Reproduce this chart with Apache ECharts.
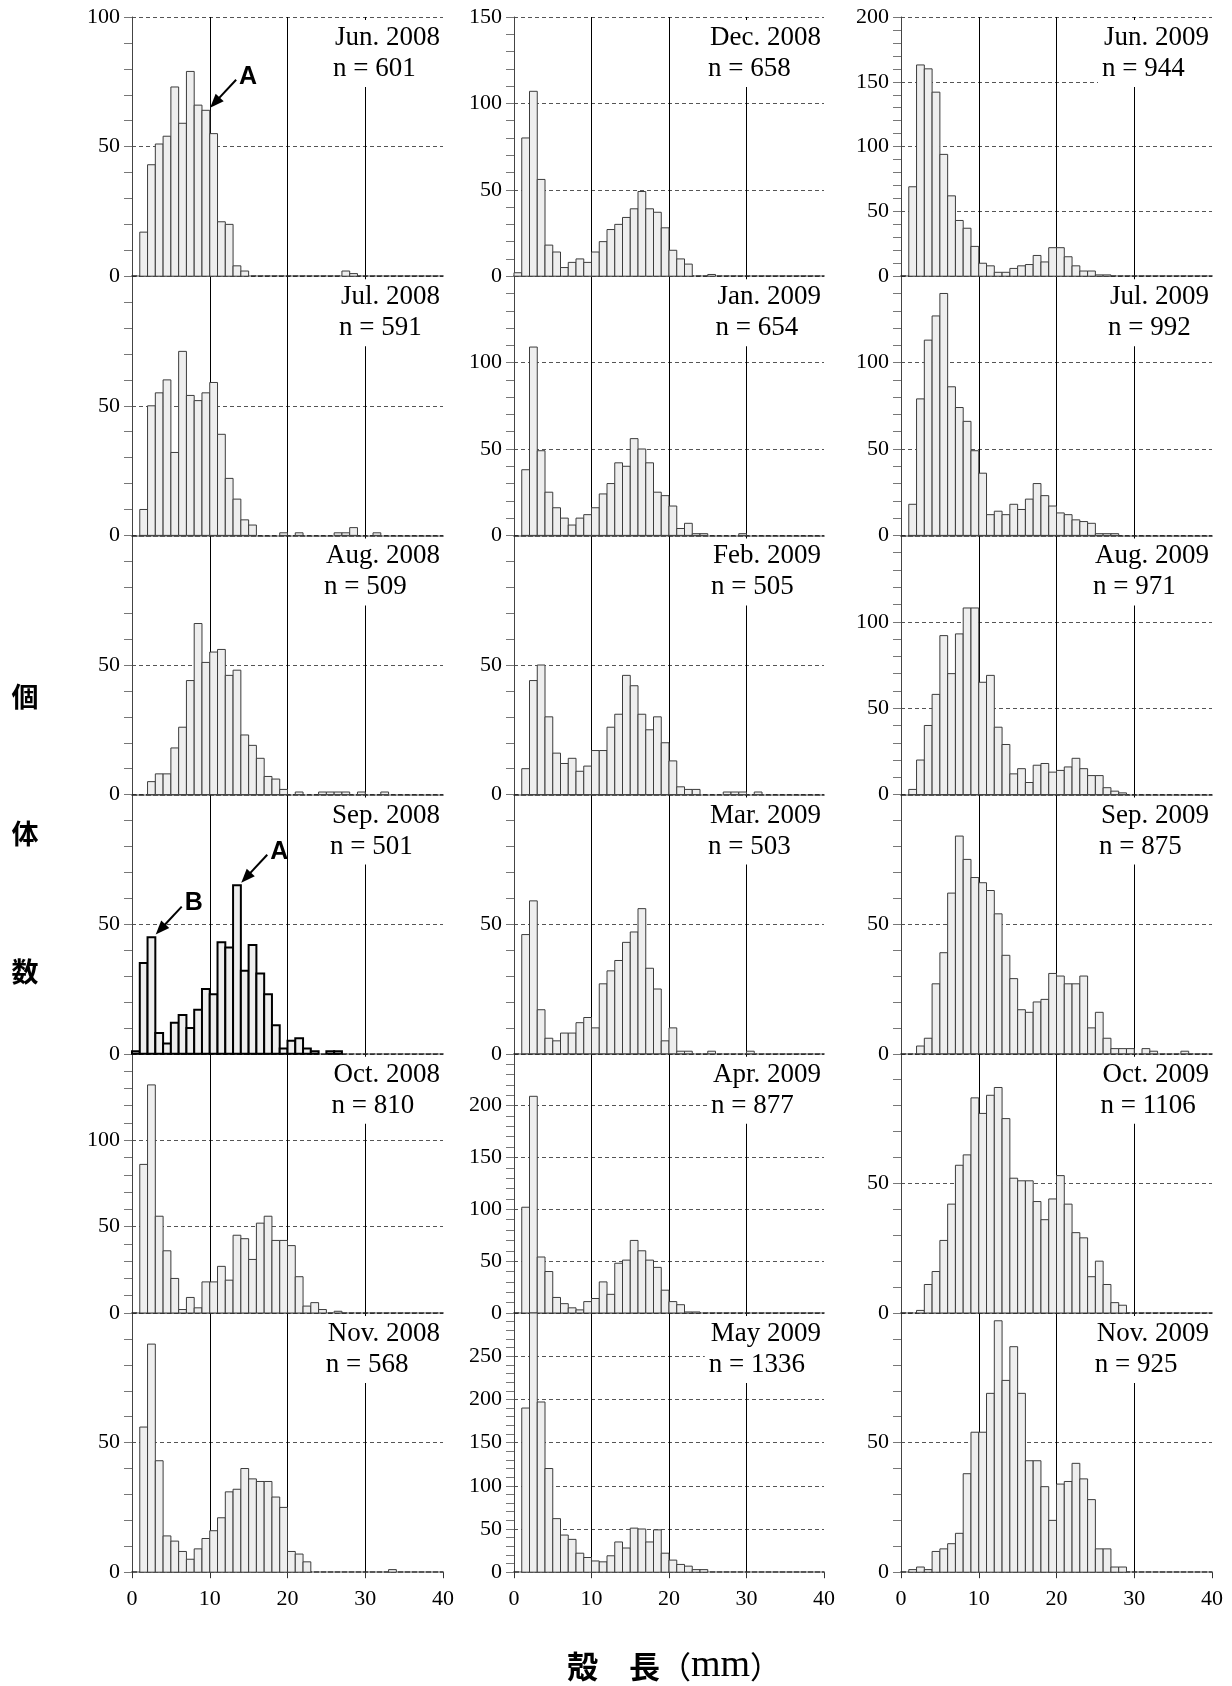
<!DOCTYPE html>
<html><head><meta charset="utf-8">
<script src="https://cdn.jsdelivr.net/npm/echarts@6/dist/echarts.min.js"></script>
<style>html,body{margin:0;padding:0;background:#fff}#c{width:1232px;height:1686px}</style>
</head><body><div id="c"></div>
<script>
// ---------------- DATA (counts per 1-mm shell-length bin, index = bin start in mm) -------------
const xTickLabels = [0, 10, 20, 30, 40];
const jun2008 = [0,17,43,51,54,73,59,79,66,64,55,21,20,4,2,0,0,0,0,0,0,0,0,0,0,0,0,2,1];
const jul2008 = [0,10,50,55,60,32,71,54,52,55,59,39,22,14,6,4,0,0,0,1,0,1,0,0,0,0,1,1,3,0,0,1];
const aug2008 = [0,0,5,8,8,18,26,44,66,51,55,56,46,48,23,19,14,7,6,2,0,1,0,0,1,1,1,1,0,1,0,0,1];
const sep2008 = [1,35,45,8,4,12,15,10,17,25,23,43,41,65,32,42,31,23,11,2,5,6,2,1,0,1,1];
const oct2008 = [0,86,132,56,36,20,2,9,3,18,18,27,19,45,43,31,52,56,42,42,39,21,4,6,2,0,1];
const nov2008 = [0,56,88,43,14,12,8,5,9,13,16,21,31,32,40,36,35,35,29,25,8,7,4,0,0,0,0,0,0,0,0,0,0,1];
const dec2008 = [2,80,107,56,18,14,5,8,10,8,14,20,27,30,34,39,49,39,37,28,15,10,7,0,0,1];
const jan2009 = [0,38,109,49,25,16,10,6,10,12,16,24,30,42,40,56,50,42,25,23,17,4,7,1,1,0,0,0,0,1];
const feb2009 = [0,10,44,50,30,16,12,14,9,11,17,17,26,31,46,42,31,25,30,20,13,3,2,2,0,0,0,1,1,1,0,1];
const mar2009 = [0,46,59,17,6,5,8,8,12,14,10,27,32,36,43,47,56,33,25,5,10,1,1,0,0,1,0,0,0,0,1];
const apr2009 = [0,102,209,54,40,15,9,5,3,11,14,30,18,48,51,70,60,51,44,22,11,8,1,1];
const may2009 = [0,190,300,197,120,62,43,38,22,17,13,12,19,35,28,51,50,35,49,22,14,9,7,3,3];
const jun2009 = [0,69,163,160,142,94,62,43,37,23,10,8,3,3,6,8,9,16,11,22,22,15,8,4,4,1,1];
const jul2009 = [0,18,79,113,127,140,86,74,66,49,36,12,14,12,18,15,21,30,23,17,13,12,9,8,7,1,1,1];
const aug2009 = [0,3,20,40,58,92,70,93,108,108,65,69,39,29,12,15,7,17,18,13,14,16,21,15,11,11,4,2,1];
const sep2009 = [0,0,3,6,27,39,62,84,75,68,66,63,54,38,29,17,16,20,21,31,30,27,27,30,10,16,6,2,2,2,0,2,1,0,0,0,1];
const oct2009 = [0,0,1,11,16,28,42,57,61,83,77,84,87,75,52,51,51,43,36,44,53,42,31,29,14,20,11,4,3];
const nov2009 = [0,1,2,1,8,9,11,15,38,54,54,69,97,74,87,69,43,43,33,20,34,35,42,36,28,9,9,2,2];

const panelCounts = [jun2008, jul2008, aug2008, sep2008, oct2008, nov2008,
                     dec2008, jan2009, feb2009, mar2009, apr2009, may2009,
                     jun2009, jul2009, aug2009, sep2009, oct2009, nov2009];
const months = ['Jun. 2008','Jul. 2008','Aug. 2008','Sep. 2008','Oct. 2008','Nov. 2008',
                'Dec. 2008','Jan. 2009','Feb. 2009','Mar. 2009','Apr. 2009','May 2009',
                'Jun. 2009','Jul. 2009','Aug. 2009','Sep. 2009','Oct. 2009','Nov. 2009'];
const nValues = [601,591,509,501,810,568,658,654,505,503,877,1336,944,992,971,875,1106,925];
const yMax = [100,100,100,100,150,100,150,150,100,100,250,300,200,150,150,100,100,100];
const yTitleChars = ['個','体','数'];
const xTitle = ['殻　長', '（', 'mm', '）'];
// annotations: panel index, label, [x, y] data point the arrow points to
const arrows = [
  {panel: 0, label: 'A', head: [10.05, 65]},
  {panel: 3, label: 'A', head: [14.05, 66]},
  {panel: 3, label: 'B', head: [3.05, 46]}
];
const boldPanel = 3;

// ---------------- LAYOUT ----------------
const colLeft = [132, 514, 901];
const colWidth = [311, 310, 311];
const gridTop0 = 17, rowH = 259.2;
const SERIF = '"Liberation Serif","Times New Roman",serif';
const CJK = '"Noto Sans CJK JP","Noto Sans CJK SC",sans-serif';
const LABEL_FONT = '27px ' + SERIF;

const chart = echarts.init(document.getElementById('c'), null, {renderer: 'canvas'});

const grids = [], xAxes = [], yAxes = [], series = [];
panelCounts.forEach((arr, p) => {
  const col = Math.floor(p / 6), row = p % 6;
  const top = gridTop0 + row * rowH;
  grids.push({left: colLeft[col], top: top, width: colWidth[col], height: rowH, containLabel: false});
  const bottomRow = row === 5;
  xAxes.push({
    gridIndex: p, type: 'value', min: xTickLabels[0], max: xTickLabels[xTickLabels.length - 1], interval: 10,
    axisLine: {show: true, onZero: false, lineStyle: {color: '#222', width: 1.5, type: [5, 2]}},
    axisTick: {show: bottomRow, length: 6, lineStyle: {color: '#333'}},
    axisLabel: {show: bottomRow, fontFamily: SERIF, fontSize: 22, color: '#000', margin: 16},
    splitLine: {show: true, showMinLine: false, showMaxLine: false, lineStyle: {color: '#000', width: 1, type: 'solid'}}
  });
  yAxes.push({
    gridIndex: p, type: 'value', min: 0, max: yMax[p], interval: 50,
    axisLine: {show: true, lineStyle: {color: '#444', width: 1}},
    axisTick: {show: true, length: 8, lineStyle: {color: '#777'}},
    minorTick: {show: true, splitNumber: 5, length: 8, lineStyle: {color: '#777'}},
    axisLabel: {fontFamily: SERIF, fontSize: 22, color: '#000', margin: 12, showMaxLabel: row === 0, showMinLabel: true},
    splitLine: {show: true, showMinLine: false, lineStyle: {color: '#555', width: 1, type: [4, 3]}}
  });
  const bold = p === boldPanel;
  series.push({
    type: 'custom', xAxisIndex: p, yAxisIndex: p, z: 2,
    data: arr.map((v, i) => [i, v]).filter(d => d[1] > 0),
    encode: {x: 0, y: 1},
    renderItem: function (params, api) {
      const b = api.value(0), v = api.value(1);
      const p1 = api.coord([b, v]);
      const p2 = api.coord([b + 1, 0]);
      const cs = params.coordSys;
      const shape = echarts.graphic.clipRectByRect(
        {x: p1[0], y: p1[1], width: p2[0] - p1[0], height: p2[1] - p1[1]},
        {x: cs.x, y: cs.y - 1, width: cs.width, height: cs.height + 1});
      if (!shape) return null;
      return {type: 'rect', shape: shape,
        style: {fill: '#eeeeee', stroke: bold ? '#000' : '#3c3c3c', lineWidth: bold ? 2 : 1}};
    }
  });
});

chart.setOption({
  animation: false,
  backgroundColor: '#fff',
  grid: grids, xAxis: xAxes, yAxis: yAxes, series: series
});

// ---------------- GRAPHICS (texts, label masks, arrows) ----------------
const ctx = document.createElement('canvas').getContext('2d');
ctx.font = LABEL_FONT;
const g = [];
months.forEach((m, p) => {
  const col = Math.floor(p / 6), row = p % 6;
  const top = gridTop0 + row * rowH;
  const right = colLeft[col] + colWidth[col] - 3;
  const w = ctx.measureText(m).width;
  const left = right - w;
  g.push({type: 'rect', z: 5, silent: true,
    shape: {x: left - 6, y: top + 3, width: right + 5 - (left - 6), height: 67},
    style: {fill: '#fff'}});
  g.push({type: 'text', z: 6, silent: true,
    style: {x: left, y: top + 21, text: m, font: LABEL_FONT, fill: '#000', align: 'left', verticalAlign: 'middle'}});
  g.push({type: 'text', z: 6, silent: true,
    style: {x: left - 2, y: top + 52, text: 'n = ' + nValues[p], font: LABEL_FONT, fill: '#000', align: 'left', verticalAlign: 'middle'}});
});

// y title
const yTitleY = [697, 834, 972];
yTitleChars.forEach((ch, i) => {
  g.push({type: 'text', z: 6, silent: true,
    style: {x: 25, y: yTitleY[i], text: ch, font: 'bold 27px ' + CJK, fill: '#000', align: 'center', verticalAlign: 'middle'}});
});
// x title
g.push({type: 'text', z: 6, silent: true,
  style: {x: 674, y: 1666, align: 'center', verticalAlign: 'middle',
    text: '{a|' + xTitle[0] + '}{b|' + xTitle[1] + '}{c|' + xTitle[2] + '}{b|' + xTitle[3] + '}',
    rich: {
      a: {fontFamily: CJK, fontWeight: 'bold', fontSize: 31, fill: '#000'},
      b: {fontFamily: CJK, fontSize: 31, fill: '#000'},
      c: {fontFamily: SERIF, fontSize: 38, fill: '#000'}
    }}});

// arrows
arrows.forEach(a => {
  const H = chart.convertToPixel({gridIndex: a.panel}, a.head);
  const T = [H[0] + 26, H[1] - 28];
  const dx = H[0] - T[0], dy = H[1] - T[1];
  const len = Math.sqrt(dx * dx + dy * dy);
  const ux = dx / len, uy = dy / len;
  const L = 14, hw = 5.5;
  const B = [H[0] - ux * L, H[1] - uy * L];
  const nx = -uy, ny = ux;
  g.push({type: 'line', z: 7, silent: true,
    shape: {x1: T[0], y1: T[1], x2: B[0] + ux * 2, y2: B[1] + uy * 2},
    style: {stroke: '#000', lineWidth: 2}});
  g.push({type: 'polygon', z: 7, silent: true,
    shape: {points: [H, [B[0] + nx * hw, B[1] + ny * hw], [B[0] - nx * hw, B[1] - ny * hw]]},
    style: {fill: '#000'}});
  g.push({type: 'text', z: 7, silent: true,
    style: {x: H[0] + 38, y: H[1] - 31, text: a.label, font: 'bold 25px "Liberation Sans",Arial,sans-serif',
      fill: '#000', align: 'center', verticalAlign: 'middle'}});
});

chart.setOption({graphic: {elements: g}});
</script>
</body></html>
